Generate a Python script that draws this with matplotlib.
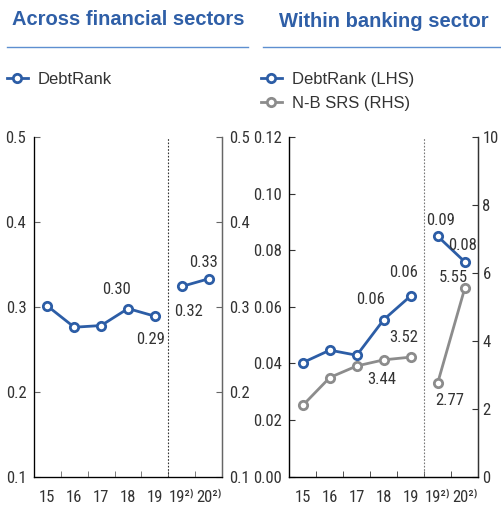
import matplotlib.pyplot as plt
from matplotlib.lines import Line2D

plt.rcParams['font.family'] = ['Roboto Condensed', 'DejaVu Sans']

# data
years = ["15", "16", "17", "18", "19", "19²⁾", "20²⁾"]
across_debtrank = [0.301, 0.276, 0.278, 0.298, 0.289, 0.324, 0.333]
bank_debtrank = [0.0403, 0.0447, 0.0429, 0.0555, 0.0639, 0.0849, 0.0759]
bank_srs = [2.10, 2.92, 3.26, 3.44, 3.52, 2.77, 5.55]

across_labels = {3: "0.30", 4: "0.29", 5: "0.32", 6: "0.33"}
bank_dr_labels = {3: "0.06", 4: "0.06", 5: "0.09", 6: "0.08"}
bank_srs_labels = {3: "3.44", 4: "3.52", 5: "2.77", 6: "5.55"}

# label offsets (points)
across_off = {3: (-8, 13.5), 4: (-3, -16.5), 5: (5, -18), 6: (-3.5, 12)}
bank_dr_off = {3: (-9.5, 14.5), 4: (-5, 16.5), 5: (2, 11.5), 6: (-1.5, 11.5)}
bank_srs_off = {3: (-1.5, -14.5), 4: (-5, 14), 5: (8.5, -13), 6: (-8.5, 8)}

blue = "#2c5da6"
grey = "#8c8c8c"
txt = "#333333"
title_blue = "#2f5fa7"
rule_blue = "#5d8fd0"
fs = 12

fig = plt.figure(figsize=(5.02, 5.05), dpi=100)
ax1 = fig.add_axes([34 / 502, 28.3 / 505, 188 / 502, 339.7 / 505])
ax2 = fig.add_axes([289.3 / 502, 28.3 / 505, 189 / 502, 339.7 / 505])
ax1r = ax1.twinx()
ax2r = ax2.twinx()

x = list(range(len(years)))
split = 5


def style(ax, spine_col):
    ax.set_xlim(-0.5, len(years) - 0.5)
    ax.set_xticks(x)
    ax.set_xticklabels(years)
    ax.set_xticks([i + 0.5 for i in range(len(years) - 1)], minor=True)
    ax.tick_params(axis='x', which='major', length=0, pad=9.5, labelsize=fs, colors=txt)
    ax.tick_params(axis='x', which='minor', length=4, direction='in', color=spine_col)
    ax.tick_params(axis='y', length=4, direction='in', pad=5.5, labelsize=fs,
                   colors=txt, color=spine_col)
    ax.spines['top'].set_visible(False)
    for s in ['left', 'right', 'bottom']:
        ax.spines[s].set_color(spine_col)
        ax.spines[s].set_linewidth(1.0)


def draw(ax, vals, col):
    kw = dict(color=col, lw=2, marker='o', ms=6, mfc='white', mec=col, mew=2)
    ax.plot(x[:split], vals[:split], **kw)
    ax.plot(x[split:], vals[split:], **kw)


def annotate(ax, vals, labels, offs):
    for i, s in labels.items():
        ax.annotate(s, (x[i], vals[i]), xytext=offs[i], textcoords='offset points',
                    ha='center', va='center', fontsize=fs, color=txt)


# left panel
style(ax1, "#666666")
ax1.set_ylim(0.1, 0.5)
ax1.set_yticks([0.1, 0.2, 0.3, 0.4, 0.5])
ax1.set_yticklabels(["0.1", "0.2", "0.3", "0.4", "0.5"])
ax1r.set_ylim(0.1, 0.5)
ax1r.set_yticks([0.1, 0.2, 0.3, 0.4, 0.5])
ax1r.set_yticklabels(["0.1", "0.2", "0.3", "0.4", "0.5"])
ax1r.tick_params(axis='y', length=4, direction='in', pad=5, labelsize=fs,
                 colors=txt, color="#666666")
ax1r.spines['top'].set_visible(False)
ax1r.spines['right'].set_color("#666666")
ax1.axvline(4.5, color="#333333", ls=(0, (1.5, 1.5)), lw=0.8)
draw(ax1, across_debtrank, blue)
annotate(ax1, across_debtrank, across_labels, across_off)

# right panel
style(ax2, "#333333")
ax2.set_ylim(0, 0.12)
ax2.set_yticks([0, 0.02, 0.04, 0.06, 0.08, 0.10, 0.12])
ax2.set_yticklabels(["0.00", "0.02", "0.04", "0.06", "0.08", "0.10", "0.12"])
ax2r.set_ylim(0, 10)
ax2r.set_yticks([0, 2, 4, 6, 8, 10])
ax2r.tick_params(axis='y', length=4, direction='in', pad=3, labelsize=fs,
                 colors=txt, color="#333333")
ax2r.spines['top'].set_visible(False)
ax2r.spines['right'].set_color("#333333")
ax2.axvline(4.5, color="#777777", ls=(0, (1.5, 1.5)), lw=0.8)
draw(ax2, bank_debtrank, blue)
draw(ax2r, bank_srs, grey)
annotate(ax2, bank_debtrank, bank_dr_labels, bank_dr_off)
annotate(ax2r, bank_srs, bank_srs_labels, bank_srs_off)

# titles and rules
fig.text(12 / 502, 1 - 25 / 505, "Across financial sectors", fontsize=14.5,
         fontweight='bold', color=title_blue, va='baseline', ha='left',
         family=['Liberation Sans', 'DejaVu Sans'])
fig.text(279 / 502, 1 - 26.7 / 505, "Within banking sector", fontsize=14.5,
         fontweight='bold', color=title_blue, va='baseline', ha='left',
         family=['Liberation Sans', 'DejaVu Sans'])
fig.add_artist(Line2D([7 / 502, 248 / 502], [1 - 46.7 / 505] * 2, color=rule_blue, lw=1))
fig.add_artist(Line2D([262.7 / 502, 1.0], [1 - 46.7 / 505] * 2, color=rule_blue, lw=1))


# legends
def handle(col):
    return Line2D([], [], color=col, lw=2, marker='o', ms=6, mfc='white', mec=col, mew=2)


leg_kw = dict(frameon=False, loc='upper left', borderpad=0, borderaxespad=0,
              handlelength=1.25, handletextpad=0.6, labelspacing=0.55,
              prop={'family': ['Liberation Sans', 'DejaVu Sans'], 'size': 12},
              labelcolor=txt)
fig.legend([handle(blue)], ["DebtRank"], bbox_to_anchor=(7 / 502, 1 - 72 / 505), **leg_kw)
fig.legend([handle(blue), handle(grey)], ["DebtRank (LHS)", "N-B SRS (RHS)"],
           bbox_to_anchor=(261 / 502, 1 - 72 / 505), **leg_kw)

fig.savefig("out.png", dpi=100)
